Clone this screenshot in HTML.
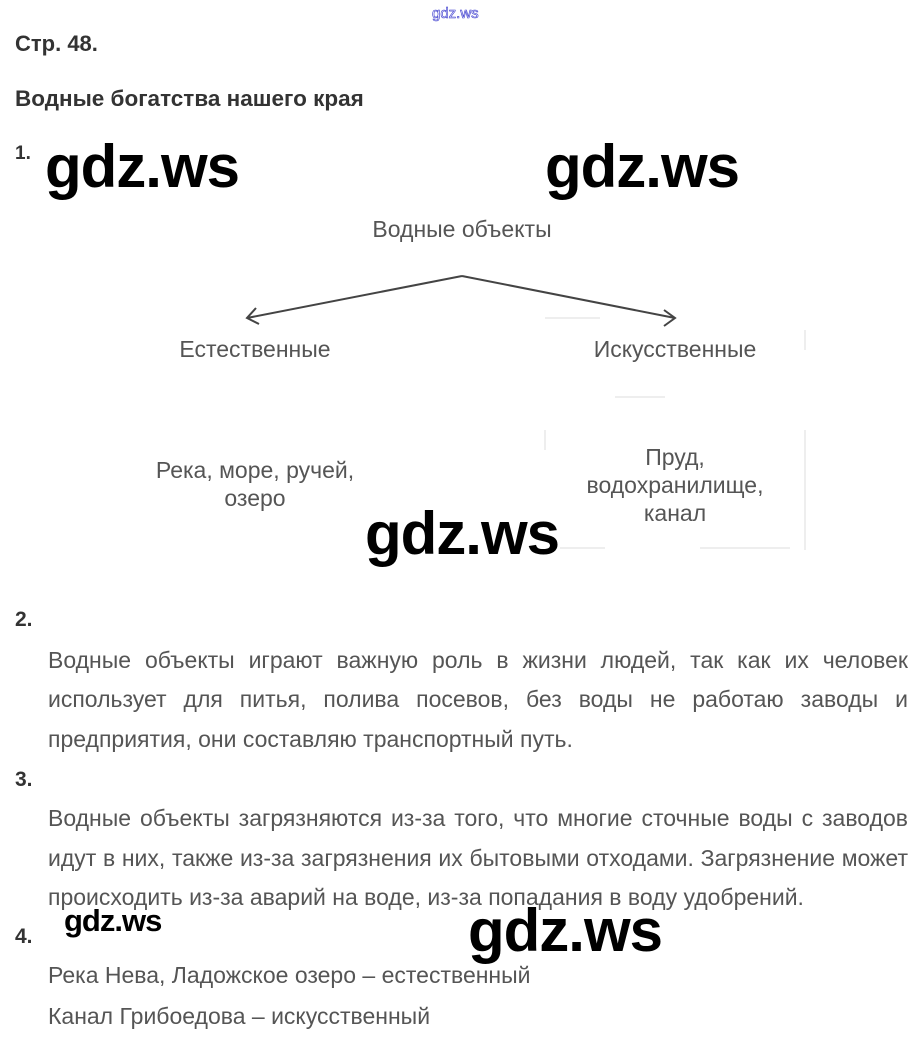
<!DOCTYPE html>
<html><head><meta charset="utf-8"><style>
body{margin:0;width:920px;height:1047px;background:#fff;position:relative;overflow:hidden;font-family:"Liberation Sans",sans-serif;color:#555}
.a{position:absolute;white-space:nowrap;line-height:24px;font-size:23px}
.b{font-weight:bold;color:#333}
.w{position:absolute;font-family:"Liberation Sans",sans-serif;font-weight:bold;color:#000;line-height:1;white-space:nowrap;letter-spacing:-1px}
.j{position:absolute;left:48px;width:860px;font-size:23px;line-height:24px;text-align:justify;text-align-last:justify;white-space:nowrap}
.c{position:absolute;font-size:23px;line-height:28px;text-align:center;width:300px}
</style></head><body>
<div class="a" style="left:432px;top:2px;font-size:15px;color:#fff;-webkit-text-stroke:0.6px #33c">gdz.ws</div>
<div class="a b" style="left:15px;top:32px;font-size:22px">Стр. 48.</div>
<div class="a b" style="left:15px;top:87px;font-size:22.5px">Водные богатства нашего края</div>
<div class="a b" style="left:15px;top:142px;font-size:19px">1.</div>
<div class="w" style="left:45px;top:137px;font-size:60px">gdz.ws</div>
<div class="w" style="left:545px;top:137px;font-size:60px">gdz.ws</div>
<div class="c" style="left:312px;top:215px">Водные объекты</div>
<svg style="position:absolute;left:0;top:0" width="920" height="600">
<g stroke="#444" stroke-width="2" fill="none">
<path d="M462 276 L247 318 M462 276 L675 318"/>
<path d="M256 308 L247 318 L259 324"/>
<path d="M664 310 L675 318 L664 326"/>
</g>
<g stroke="#eee" stroke-width="2"><path d="M545 318 H600 M805 330 V350 M615 397 H665 M545 430 V450 M805 430 V550 M560 548 H605 M700 548 H790"/></g>
</svg>
<div class="c" style="left:105px;top:335px">Естественные</div>
<div class="c" style="left:525px;top:335px">Искусственные</div>
<div class="c" style="left:105px;top:456px">Река, море, ручей,<br>озеро</div>
<div class="c" style="left:525px;top:443px">Пруд,<br>водохранилище,<br>канал</div>
<div class="w" style="left:365px;top:504px;font-size:60px">gdz.ws</div>
<div class="a b" style="left:15px;top:608px;font-size:21px">2.</div>
<div class="j" style="top:648px">Водные объекты играют важную роль в жизни людей, так как их человек</div>
<div class="j" style="top:687px">использует для питья, полива посевов, без воды не работаю заводы и</div>
<div class="a" style="left:48px;top:727px">предприятия, они составляю транспортный путь.</div>
<div class="a b" style="left:15px;top:768px;font-size:21px">3.</div>
<div class="j" style="top:806px">Водные объекты загрязняются из-за того, что многие сточные воды с заводов</div>
<div class="j" style="top:846px">идут в них, также из-за загрязнения их бытовыми отходами. Загрязнение может</div>
<div class="a" style="left:48px;top:885px">происходить из-за аварий на воде, из-за попадания в воду удобрений.</div>
<div class="a b" style="left:15px;top:925px;font-size:21px">4.</div>
<div class="w" style="left:64px;top:905px;font-size:31px">gdz.ws</div>
<div class="w" style="left:468px;top:901px;font-size:60px">gdz.ws</div>
<div class="a" style="left:48px;top:963px">Река Нева, Ладожское озеро – естественный</div>
<div class="a" style="left:48px;top:1004px">Канал Грибоедова – искусственный</div>
</body></html>
